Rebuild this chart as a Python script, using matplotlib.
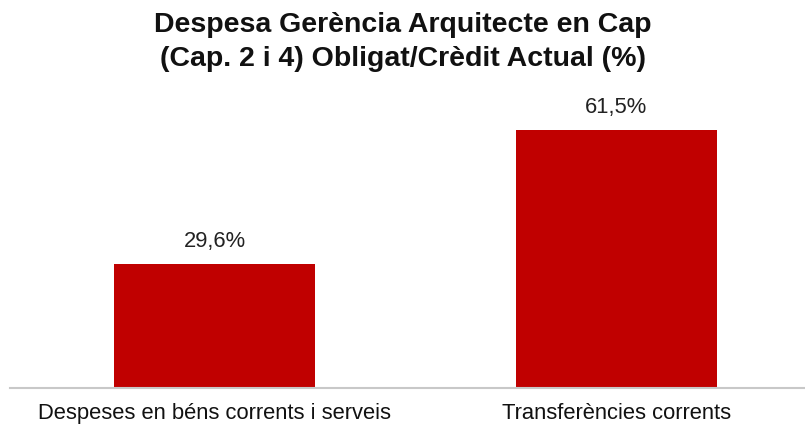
import matplotlib
matplotlib.use("Agg")
import matplotlib.pyplot as plt

categories = ["Despeses en béns corrents i serveis", "Transferències corrents"]
values = [29.6, 61.5]
value_labels = ["29,6%", "61,5%"]
title = "Despesa Gerència Arquitecte en Cap\n(Cap. 2 i 4) Obligat/Crèdit Actual (%)"

plt.rcParams['font.family'] = ['Liberation Sans', 'DejaVu Sans']

fig = plt.figure(figsize=(8.05, 4.27), dpi=100)
ax = fig.add_axes([0.0124, 0.0885, 0.9876, 0.688])

x = list(range(len(categories)))
ax.bar(x, values, width=0.5, color="#C00000")
for xi, v, lab in zip(x, values, value_labels):
    ax.text(xi, v + 3.2, lab, ha="center", va="bottom", fontsize=15.8, color="#222222")

ax.set_xlim(-0.51, 1.47)
ax.set_ylim(0, 70)
ax.set_xticks(x)
ax.set_xticklabels(categories, fontsize=15.8, color="#111111")
ax.tick_params(axis="x", length=0, pad=10)
ax.set_yticks([])
for s in ["top", "right", "left"]:
    ax.spines[s].set_visible(False)
ax.spines["bottom"].set_color("#C8C8C8")
ax.spines["bottom"].set_linewidth(1.5)

fig.text(0.5, 0.972, title, ha="center", va="top", fontsize=20.5, fontweight="bold",
         linespacing=1.4, color="#111111")

fig.savefig("out.png", dpi=100)
